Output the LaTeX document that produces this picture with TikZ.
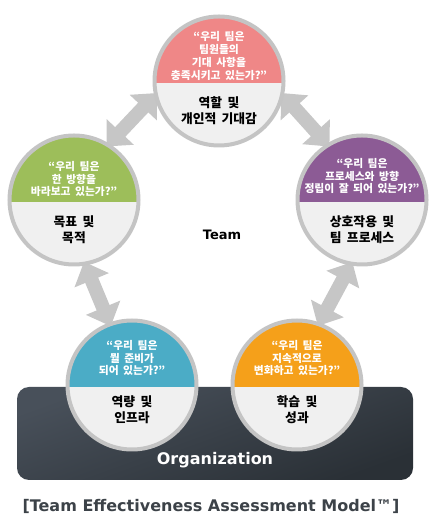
\documentclass[tikz,border=0pt]{standalone}
\usepackage{fontspec}
\setmainfont{DejaVu Sans}
\newfontfamily\krfont{Noto Sans CJK KR}[WordSpace=1.8]
\usetikzlibrary{arrows.meta}
\pgfdeclarelayer{bg}
\pgfsetlayers{bg,main}
\definecolor{ringgrey}{HTML}{C4C4C4}
\definecolor{lowgrey}{HTML}{F0F0F0}
\definecolor{cpink}{HTML}{EF8787}
\definecolor{cgreen}{HTML}{9DBE5A}
\definecolor{cpurple}{HTML}{8C5B95}
\definecolor{cblue}{HTML}{4BACC6}
\definecolor{corange}{HTML}{F5A01A}
\definecolor{arrgrey}{HTML}{C6C6C6}
\definecolor{orgtop}{HTML}{48505A}
\definecolor{orgbot}{HTML}{2A3036}
\definecolor{captc}{HTML}{3C4248}
\tikzset{
  disc/.style={circle, minimum size=129pt, inner sep=0pt, draw=ringgrey, line width=4pt,
    path picture={
      \fill[#1] ([yshift=4pt]path picture bounding box.north west) rectangle ([yshift=-2pt]path picture bounding box.east);
      \fill[lowgrey] ([yshift=-2pt]path picture bounding box.west) rectangle ([yshift=-4pt]path picture bounding box.south east);
    }},
  qtext/.style={text=white, align=center, inner sep=0pt, font=\krfont\bfseries\fontsize{10.8}{12.9}\selectfont},
  ltext/.style={text=black, align=center, inner sep=0pt, font=\krfont\bfseries\fontsize{12.8}{16}\selectfont},
  biarrow/.style={draw=arrgrey, line width=14pt, {Triangle[width=36pt,length=20pt]}-{Triangle[width=36pt,length=20pt]}, shorten <=-4pt, shorten >=-4pt},
  orgbox/.style={rounded corners=12pt, minimum width=396pt, minimum height=93pt, inner sep=0pt, top color=orgtop, bottom color=orgbot, shading angle=20},
  orgtext/.style={text=white, font=\bfseries\fontsize{16}{18}\selectfont},
  teamtext/.style={text=black, font=\bfseries\fontsize{13}{15}\selectfont},
  captext/.style={text=captc, font=\bfseries\fontsize{16}{18}\selectfont},
}
\begin{document}
\begin{tikzpicture}[x=1pt,y=1pt]
\useasboundingbox (0,0) rectangle (430,518);
% circles
\node[disc=cpink]   (T)  at (219,437) {};
\node[disc=cgreen]  (L)  at (74,318)  {};
\node[disc=cpurple] (R)  at (362,318) {};
\node[disc=cblue]   (BL) at (132,133) {};
\node[disc=corange] (BR) at (297,133) {};
% background: organization box and arrows
\begin{pgfonlayer}{bg}
\node[orgbox] (org) at (215,84.5) {};
\draw[biarrow] (L.58) -- (T.193);
\draw[biarrow] (T.347) -- (R.122);
\draw[biarrow] (L.280) -- (BL.110);
\draw[biarrow] (R.260) -- (BR.70);
\end{pgfonlayer}
% questions
\node[qtext] (Tq)  at ([yshift=25pt]T.center)  {“우리 팀은\\팀원들의\\기대 사항을\\충족시키고 있는가?”};
\node[qtext] (Lq)  at ([yshift=21pt]L.center)  {“우리 팀은\\한 방향을\\바라보고 있는가?”};
\node[qtext] (Rq)  at ([yshift=24pt]R.center)  {“우리 팀은\\프로세스와 방향\\정립이 잘 되어 있는가?”};
\node[qtext] (BLq) at ([yshift=27pt]BL.center) {“우리 팀은\\뭘 준비가\\되어 있는가?”};
\node[qtext] (BRq) at ([yshift=27pt]BR.center) {“우리 팀은\\지속적으로\\변화하고 있는가?”};
% labels
\node[ltext] (Tl)  at ([yshift=-29.5pt]T.center)  {역할 및\\개인적 기대감};
\node[ltext] (Ll)  at ([yshift=-29.5pt]L.center)  {목표 및\\목적};
\node[ltext] (Rl)  at ([yshift=-29.5pt]R.center)  {상호작용 및\\팀 프로세스};
\node[ltext] (BLl) at ([yshift=-25pt]BL.center) {역량 및\\인프라};
\node[ltext] (BRl) at ([yshift=-25pt]BR.center) {학습 및\\성과};
% other texts
\node[teamtext] (team) at (222,283) {Team};
\node[orgtext] (orgt) at (215,58) {Organization};
\node[captext] (cap) at (211,12) {[Team Effectiveness Assessment Model™]};
\end{tikzpicture}
\end{document}
